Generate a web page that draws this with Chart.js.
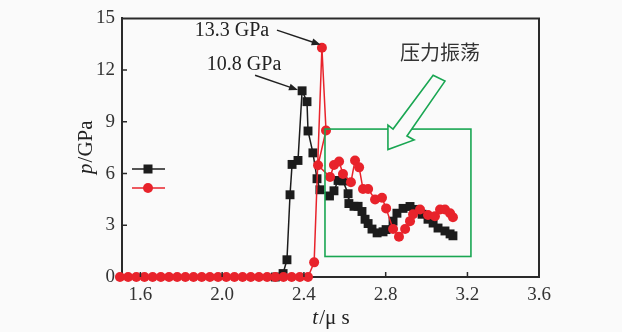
<!DOCTYPE html>
<html>
<head>
<meta charset="utf-8">
<script src="https://cdn.jsdelivr.net/npm/chart.js@4.4.0/dist/chart.umd.min.js"></script>
<style>
  html, body { margin: 0; padding: 0; background: #fafafa; }
  #wrap { width: 622px; height: 332px; }
</style>
</head>
<body>
<div id="wrap"><canvas id="chart" width="622" height="332"></canvas></div>
<script>
// values (t in µs, p in GPa)
const blackTime = [2.26, 2.298, 2.317, 2.332, 2.342, 2.371, 2.391, 2.415, 2.42, 2.444,
  2.464, 2.478, 2.525, 2.547, 2.567, 2.591, 2.616, 2.62, 2.645, 2.665,
  2.684, 2.699, 2.714, 2.733, 2.758, 2.787, 2.802, 2.836, 2.855, 2.885,
  2.919, 2.944, 2.978, 3.007, 3.032, 3.056, 3.090, 3.115, 3.129];
const blackP = [0, 0.2, 1.0, 4.77, 6.53, 6.76, 10.8, 10.17, 8.47, 7.2,
  5.7, 5.06, 4.7, 5.0, 5.6, 5.57, 4.83, 4.26, 4.1, 4.1,
  3.8, 3.35, 3.1, 2.78, 2.56, 2.62, 2.75, 3.24, 3.7, 3.98,
  4.09, 3.92, 3.64, 3.35, 3.13, 2.84, 2.67, 2.5, 2.39];

const redTime = [1.50, 1.54, 1.58, 1.62, 1.66, 1.70, 1.74, 1.78, 1.82, 1.86,
  1.90, 1.94, 1.98, 2.02, 2.06, 2.10, 2.14, 2.18, 2.22, 2.26,
  2.30, 2.34, 2.38, 2.42, 2.45, 2.488, 2.508, 2.469, 2.528, 2.547,
  2.572, 2.591, 2.630, 2.650, 2.670, 2.689, 2.714, 2.748, 2.782, 2.802,
  2.836, 2.865, 2.895, 2.919, 2.934, 2.968, 3.007, 3.041, 3.066, 3.090,
  3.115, 3.129];
const redP = [0, 0, 0, 0, 0, 0, 0, 0, 0, 0,
  0, 0, 0, 0, 0, 0, 0, 0, 0, 0,
  0, 0, 0, 0, 0.85, 13.3, 8.5, 6.48, 5.8, 6.5,
  6.7, 5.97, 5.5, 6.76, 6.36, 5.1, 5.1, 4.5, 4.6, 3.98,
  2.78, 2.33, 2.78, 3.24, 3.64, 3.92, 3.6, 3.52, 3.92, 3.92,
  3.7, 3.47];

// the printed axis ends a little short of 3.6, the last label sits on the frame
const xTickValues = [1.6, 2.0, 2.4, 2.8, 3.2, 3.55];
const xTickLabels = ['1.6', '2.0', '2.4', '2.8', '3.2', '3.6'];
const yTickValues = [0, 3, 6, 9, 12, 15];

const peakLabels = ['13.3 GPa', '10.8 GPa'];
const boxLabel = '压力振荡';

const RED = '#e8232b';
const BLACK = '#1c1c1c';
const GREEN = '#19a652';
const AXIS = '#2a2a2a';
const TEXT = '#333333';
const BG = '#fafafa';
const SERIF = '"Liberation Serif", "DejaVu Serif", serif';

function toPoints(xs, ys) {
  return xs.map((x, i) => ({ x: x, y: ys[i] }));
}

function arrow(ctx, x1, y1, x2, y2) {
  const a = Math.atan2(y2 - y1, x2 - x1);
  const len = 9, hw = 3.5;
  ctx.beginPath();
  ctx.moveTo(x1, y1);
  ctx.lineTo(x2 - Math.cos(a) * len * 0.8, y2 - Math.sin(a) * len * 0.8);
  ctx.stroke();
  ctx.beginPath();
  ctx.moveTo(x2, y2);
  ctx.lineTo(x2 - Math.cos(a) * len - Math.sin(a) * hw, y2 - Math.sin(a) * len + Math.cos(a) * hw);
  ctx.lineTo(x2 - Math.cos(a) * len + Math.sin(a) * hw, y2 - Math.sin(a) * len - Math.cos(a) * hw);
  ctx.closePath();
  ctx.fill();
}

// frame, inward ticks, annotations, legend samples and axis titles
const decorations = {
  id: 'decorations',
  afterDatasetsDraw(chart) {
    const ctx = chart.ctx;
    const area = chart.chartArea;
    const xs = chart.scales.x, ys = chart.scales.y;
    const px = v => xs.getPixelForValue(v);
    const py = v => ys.getPixelForValue(v);
    ctx.save();

    // frame top and right
    ctx.strokeStyle = AXIS;
    ctx.lineWidth = 2;
    ctx.beginPath();
    ctx.moveTo(area.left - 1, area.top);
    ctx.lineTo(area.right, area.top);
    ctx.lineTo(area.right, area.bottom + 1);
    ctx.stroke();

    // inward ticks
    ctx.lineWidth = 1.5;
    ctx.beginPath();
    xTickValues.slice(0, -1).forEach(v => {
      ctx.moveTo(px(v), area.bottom);
      ctx.lineTo(px(v), area.bottom - 5);
    });
    yTickValues.slice(1, -1).forEach(v => {
      ctx.moveTo(area.left, py(v));
      ctx.lineTo(area.left + 5, py(v));
    });
    ctx.stroke();

    // green box around the oscillation
    ctx.strokeStyle = GREEN;
    ctx.lineWidth = 1.6;
    ctx.strokeRect(px(2.503), py(8.58), px(3.217) - px(2.503), py(1.19) - py(8.58));

    // hollow green arrow
    const poly = [[3.032, 11.70], [3.090, 11.36], [2.904, 8.18], [2.939, 7.95],
      [2.811, 7.39], [2.811, 8.81], [2.836, 8.58]];
    ctx.beginPath();
    poly.forEach((p, i) => {
      if (i === 0) ctx.moveTo(px(p[0]), py(p[1]));
      else ctx.lineTo(px(p[0]), py(p[1]));
    });
    ctx.closePath();
    ctx.fillStyle = BG;
    ctx.fill();
    ctx.stroke();

    // peak labels with arrows
    ctx.fillStyle = '#222';
    ctx.font = '20px ' + SERIF;
    ctx.textAlign = 'center';
    ctx.textBaseline = 'middle';
    ctx.fillText(peakLabels[0], px(2.048), py(14.26));
    ctx.fillText(peakLabels[1], px(2.107), py(12.33));
    ctx.strokeStyle = '#222';
    ctx.fillStyle = '#222';
    ctx.lineWidth = 1.5;
    arrow(ctx, px(2.268), py(14.32), px(2.482), py(13.47));
    arrow(ctx, px(2.161), py(11.70), px(2.371), py(10.85));

    ctx.font = '20px "Noto Sans CJK SC"';
    ctx.fillStyle = '#333';
    ctx.fillText(boxLabel, px(3.066), py(13.0));

    // legend samples (no text in the original)
    ctx.lineWidth = 1.5;
    ctx.strokeStyle = BLACK;
    ctx.beginPath();
    ctx.moveTo(132, 169); ctx.lineTo(165, 169);
    ctx.stroke();
    ctx.fillStyle = BLACK;
    ctx.fillRect(143.5, 164.5, 9, 9);
    ctx.strokeStyle = RED;
    ctx.beginPath();
    ctx.moveTo(132, 188); ctx.lineTo(165, 188);
    ctx.stroke();
    ctx.fillStyle = RED;
    ctx.beginPath();
    ctx.arc(148, 188, 5, 0, Math.PI * 2);
    ctx.fill();

    // axis titles, italic symbol + upright unit
    ctx.fillStyle = '#222';
    ctx.textAlign = 'left';
    ctx.textBaseline = 'middle';
    const it = 'italic 21px ' + SERIF, up = '21px ' + SERIF;
    ctx.font = it; const wt = ctx.measureText('t').width;
    ctx.font = up; const wu = ctx.measureText('/\u03bc s').width;
    let x0 = (area.left + area.right) / 2 - (wt + wu) / 2;
    ctx.font = it; ctx.fillText('t', x0, 318);
    ctx.font = up; ctx.fillText('/\u03bc s', x0 + wt + 1, 318);

    ctx.translate(86, (area.top + area.bottom) / 2);
    ctx.rotate(-Math.PI / 2);
    ctx.font = it; const wp = ctx.measureText('p').width;
    ctx.font = up; const wg = ctx.measureText('/GPa').width;
    x0 = -(wp + wg) / 2;
    ctx.font = it; ctx.fillText('p', x0, 0);
    ctx.font = up; ctx.fillText('/GPa', x0 + wp + 1, 0);
    ctx.restore();
  }
};

new Chart(document.getElementById('chart'), {
  type: 'line',
  data: {
    datasets: [
      {
        label: 'red',
        data: toPoints(redTime, redP),
        borderColor: RED,
        backgroundColor: RED,
        borderWidth: 1.5,
        pointStyle: 'circle',
        pointRadius: 5,
        pointBorderWidth: 0,
        clip: false,
        order: 0
      },
      {
        label: 'black',
        data: toPoints(blackTime, blackP),
        borderColor: BLACK,
        backgroundColor: BLACK,
        borderWidth: 1.5,
        pointStyle: 'rect',
        pointRadius: 6.3,
        pointBorderWidth: 0,
        clip: false,
        order: 1
      }
    ]
  },
  options: {
    responsive: false,
    animation: false,
    layout: { padding: { left: 0, top: 13, right: 83, bottom: 0 } },
    plugins: { legend: { display: false }, tooltip: { enabled: false } },
    scales: {
      x: {
        type: 'linear',
        min: 1.51,
        max: 3.55,
        grid: { display: false, drawTicks: false },
        border: { display: true, color: AXIS, width: 2 },
        ticks: {
          color: TEXT,
          padding: 7,
          maxRotation: 0,
          font: { family: SERIF, size: 19 },
          callback: (v, i) => xTickLabels[i]
        },
        afterBuildTicks: s => { s.ticks = xTickValues.map(v => ({ value: v })); },
        afterFit: s => { s.height = 55; }
      },
      y: {
        min: 0,
        max: 15,
        grid: { display: false, drawTicks: false },
        border: { display: true, color: AXIS, width: 2 },
        ticks: {
          color: TEXT,
          padding: 7,
          font: { family: SERIF, size: 19 }
        },
        afterBuildTicks: s => { s.ticks = yTickValues.map(v => ({ value: v })); },
        afterFit: s => { s.width = 122; }
      }
    }
  },
  plugins: [decorations]
});
</script>
</body>
</html>
